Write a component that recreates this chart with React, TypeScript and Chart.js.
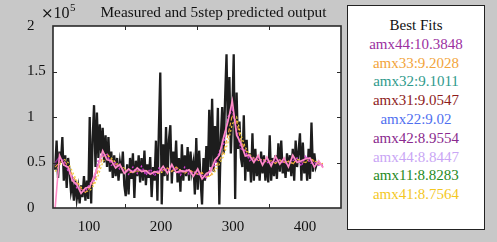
import React, { useEffect, useRef } from "react";
import { Chart, registerables } from "chart.js";

Chart.register(...registerables);

const TITLE = "Measured and 5step predicted output";
const EXPONENT_TIMES = "×";
const EXPONENT_BASE = "10";
const EXPONENT_POWER = "5";
const LEGEND_TITLE = "Best Fits";
const FIT_LABELS = [
  "amx44:10.3848",
  "amx33:9.2028",
  "amx32:9.1011",
  "amx31:9.0547",
  "amx22:9.02",
  "amx42:8.9554",
  "amx44:8.8447",
  "amx11:8.8283",
  "amx41:8.7564",
];
const FIT_COLORS = [
  "#9b2f9f",
  "#f2a43a",
  "#2f9a8c",
  "#8e1c1c",
  "#4f6ff0",
  "#8a2a8e",
  "#c9a6f5",
  "#1f8a22",
  "#f4c81f",
];

const X_MIN = 50;
const X_MAX = 450;
const X_TICK_LABELS = [100, 200, 300, 400];
const X_TICK_MARKS = [150, 250, 350];
const Y_MIN = 0;
const Y_MAX = 2;
const Y_TICKS = [0, 0.5, 1, 1.5, 2];
const Y_TICK_MARKS = [0.5, 1, 1.5];

// measured output (x 1e5), samples starting at x=53, every 2
const MEAS_X0 = 53;
const MEAS_STEP = 2;
const MEASURED = [
  0.42, 0.74, 0.33, 0.62, 0.5, 0.78, 0.3, 0.58, 0.22, 0.55,
  0.4, 0.18, 0.27, 0.08, 0.3, 0.1, 0.22, 0.05, 0.25, 0.12,
  0.35, 0.08, 0.3, 0.1, 1.0, 0.05, 0.75, 1.13, 0.45, 1.05,
  0.55, 0.92, 0.6, 0.88, 0.5, 0.8, 0.45, 0.78, 0.4, 0.62,
  0.33, 0.58, 0.35, 0.55, 0.3, 0.5, 0.38, 0.62, 0.25, 0.13,
  0.48, 0.15, 0.55, 0.32, 0.6, 0.11, 0.52, 0.35, 0.58, 0.28,
  0.55, 0.3, 0.63, 0.25, 0.48, 0.33, 0.56, 0.12, 0.45, 0.3,
  0.74, 0.08, 0.85, 1.49, 0.04, 0.7, 0.35, 0.89, 0.3, 0.75,
  0.91, 0.27, 0.62, 0.4, 0.74, 0.28, 0.55, 0.18, 0.7, 0.3,
  0.58, 0.35, 0.67, 0.3, 0.62, 0.4, 0.5, 0.15, 0.77, 0.2,
  0.63, 0.3, 0.04, 0.55, 0.3, 0.68, 0.35, 1.08, 0.45, 1.2,
  0.4, 0.9, 0.5, 1.1, 0.04, 0.75, 1.11, 0.6, 1.2, 1.69,
  0.8, 1.44, 0.6, 1.05, 1.69, 0.1, 1.27, 0.65, 0.95, 0.55,
  0.45, 1.02, 0.3, 0.75, 0.4, 0.6, 0.28, 0.82, 0.3, 0.65,
  0.35, 0.55, 0.3, 0.62, 0.38, 0.58, 0.3, 0.55, 0.28, 0.8,
  0.3, 0.55, 0.35, 0.58, 0.32, 0.71, 0.4, 0.74, 0.38, 0.52,
  0.33, 0.6, 0.4, 0.58, 0.35, 0.65, 0.3, 0.74, 0.45, 0.62,
  0.82, 0.3, 0.72, 0.38, 0.55, 0.3, 0.65, 0.32, 0.94, 0.4,
  0.6, 0.45, 0.5,
];

// predicted outputs, samples starting at x=53, every 6
const PRED_X0 = 53;
const PRED_STEP = 6;
const PRED_PINK = [
  0.0, 0.58, 0.47, 0.45, 0.3, 0.26, 0.16, 0.22, 0.23, 0.35, 0.47, 0.63, 0.53,
  0.52, 0.44, 0.48, 0.38, 0.43, 0.39, 0.44, 0.4, 0.41, 0.37, 0.4, 0.39, 0.46,
  0.38, 0.48, 0.39, 0.41, 0.4, 0.42, 0.35, 0.43, 0.32, 0.38, 0.4, 0.53, 0.58,
  0.78, 0.95, 1.18, 0.8, 0.71, 0.57, 0.58, 0.5, 0.58, 0.47, 0.56, 0.46, 0.57,
  0.48, 0.55, 0.45, 0.58, 0.5, 0.52, 0.54, 0.55, 0.45, 0.52, 0.44,
];
const PRED_MAGENTA = [
  0.48, 0.52, 0.53, 0.4, 0.34, 0.22, 0.2, 0.18, 0.27, 0.3, 0.53, 0.57, 0.59,
  0.47, 0.5, 0.42, 0.42, 0.37, 0.45, 0.38, 0.46, 0.36, 0.43, 0.35, 0.44, 0.41,
  0.43, 0.42, 0.44, 0.36, 0.45, 0.37, 0.4, 0.37, 0.36, 0.33, 0.44, 0.47, 0.62,
  0.7, 1.0, 1.08, 0.86, 0.65, 0.63, 0.52, 0.55, 0.52, 0.53, 0.5, 0.5, 0.51,
  0.53, 0.49, 0.5, 0.52, 0.55, 0.46, 0.58, 0.49, 0.5, 0.47, 0.47,
];
const PRED_PURPLE = [
  0.5, 0.56, 0.49, 0.43, 0.31, 0.25, 0.17, 0.21, 0.24, 0.33, 0.49, 0.61, 0.55,
  0.51, 0.46, 0.46, 0.39, 0.41, 0.41, 0.42, 0.42, 0.39, 0.39, 0.38, 0.41, 0.45,
  0.39, 0.46, 0.4, 0.39, 0.41, 0.4, 0.36, 0.41, 0.33, 0.36, 0.41, 0.51, 0.59,
  0.75, 0.97, 1.13, 0.83, 0.69, 0.59, 0.56, 0.51, 0.56, 0.49, 0.54, 0.47, 0.55,
  0.49, 0.53, 0.46, 0.56, 0.51, 0.5, 0.55, 0.53, 0.46, 0.51, 0.45,
];
const PRED_ORANGE = [
  0.45, 0.5, 0.52, 0.46, 0.36, 0.28, 0.21, 0.17, 0.22, 0.28, 0.42, 0.56, 0.6,
  0.53, 0.48, 0.45, 0.43, 0.39, 0.4, 0.41, 0.4, 0.42, 0.37, 0.4, 0.38, 0.42,
  0.44, 0.4, 0.45, 0.41, 0.38, 0.42, 0.39, 0.37, 0.39, 0.34, 0.36, 0.44, 0.52,
  0.62, 0.8, 1.02, 0.95, 0.74, 0.64, 0.57, 0.54, 0.52, 0.54, 0.5, 0.52, 0.49,
  0.53, 0.5, 0.52, 0.48, 0.54, 0.51, 0.5, 0.55, 0.51, 0.48, 0.49,
];
const PRED_YELLOW = [
  0.4, 0.47, 0.54, 0.5, 0.4, 0.3, 0.23, 0.18, 0.19, 0.25, 0.36, 0.5, 0.58,
  0.55, 0.5, 0.46, 0.44, 0.4, 0.39, 0.41, 0.41, 0.41, 0.39, 0.39, 0.38, 0.4,
  0.43, 0.41, 0.43, 0.42, 0.39, 0.41, 0.4, 0.37, 0.38, 0.35, 0.35, 0.4, 0.48,
  0.57, 0.72, 0.92, 1.0, 0.8, 0.67, 0.59, 0.55, 0.53, 0.53, 0.52, 0.51, 0.5,
  0.52, 0.51, 0.51, 0.49, 0.53, 0.52, 0.5, 0.54, 0.52, 0.49, 0.48,
];

const FONT = "'Liberation Serif', 'Times New Roman', serif";
const BG = "#c8c8c8";

function toPoints(values: number[], x0: number, step: number) {
  return values.map((y, i) => ({ x: x0 + i * step, y }));
}

const framePlugin = {
  id: "matlabFrame",
  beforeDatasetsDraw(chart: any) {
    const { ctx, chartArea } = chart;
    ctx.save();
    ctx.fillStyle = "#ffffff";
    ctx.fillRect(chartArea.left, chartArea.top, chartArea.right - chartArea.left, chartArea.bottom - chartArea.top);
    ctx.restore();
  },
  afterDatasetsDraw(chart: any) {
    const { ctx, chartArea, scales } = chart;
    const { left, right, top, bottom } = chartArea;
    ctx.save();
    ctx.strokeStyle = "#2a2a2a";
    ctx.lineWidth = 1;
    ctx.beginPath();
    X_TICK_MARKS.forEach((v) => {
      const px = Math.round(scales.x.getPixelForValue(v)) + 0.5;
      ctx.moveTo(px, bottom);
      ctx.lineTo(px, bottom - 4);
      ctx.moveTo(px, top);
      ctx.lineTo(px, top + 4);
    });
    Y_TICK_MARKS.forEach((v) => {
      const py = Math.round(scales.y.getPixelForValue(v)) + 0.5;
      ctx.moveTo(left, py);
      ctx.lineTo(left + 4, py);
      ctx.moveTo(right, py);
      ctx.lineTo(right - 4, py);
    });
    ctx.stroke();
    ctx.lineWidth = 1.6;
    ctx.strokeRect(left, top, right - left, bottom - top);

    // exponent label (×10^5) above the y axis
    ctx.fillStyle = "#111";
    ctx.textBaseline = "alphabetic";
    ctx.textAlign = "left";
    const by = 18;
    let bx = 41;
    ctx.font = `15px 'DejaVu Serif', serif`;
    ctx.fillText(EXPONENT_TIMES, bx, by);
    bx += ctx.measureText(EXPONENT_TIMES).width;
    ctx.font = `16px ${FONT}`;
    ctx.fillText(EXPONENT_BASE, bx, by);
    bx += ctx.measureText(EXPONENT_BASE).width + 0.5;
    ctx.font = `11px ${FONT}`;
    ctx.fillText(EXPONENT_POWER, bx, by - 7);
    ctx.restore();
  },
};

export default function App() {
  const canvasRef = useRef<HTMLCanvasElement | null>(null);

  useEffect(() => {
    if (!canvasRef.current) return;
    const line = (label: string, data: number[], color: string, width: number, dash: number[], order: number) => ({
      label,
      data: toPoints(data, PRED_X0, PRED_STEP),
      borderColor: color,
      borderWidth: width,
      borderDash: dash,
      pointRadius: 0,
      fill: false,
      tension: 0,
      order,
    });
    const chart = new Chart(canvasRef.current, {
      type: "line",
      data: {
        datasets: [
          line("pred yellow", PRED_YELLOW, "#f0cf3c", 1.2, [2, 2], 5),
          line("pred orange", PRED_ORANGE, "#f3a23a", 1.2, [4, 2], 4),
          line("pred purple", PRED_PURPLE, "#8a2a8e", 1.3, [], 3),
          line("pred magenta", PRED_MAGENTA, "#d23cd2", 1.3, [2, 2], 2),
          line("pred pink", PRED_PINK, "#ff8cc6", 1.6, [], 1),
          {
            label: "measured",
            data: toPoints(MEASURED, MEAS_X0, MEAS_STEP),
            borderColor: "rgba(10,10,10,0.92)",
            borderWidth: 2.3,
            pointRadius: 0,
            fill: false,
            tension: 0,
            order: 10,
          },
        ],
      },
      options: {
        animation: false,
        responsive: false,
        devicePixelRatio: 1,
        layout: { padding: { left: 27, right: 156, top: 26, bottom: 0 } },
        plugins: {
          legend: { display: false },
          tooltip: { enabled: false },
          title: { display: false },
        },
        scales: {
          x: {
            type: "linear",
            min: X_MIN,
            max: X_MAX,
            grid: { display: false, drawTicks: false },
            border: { display: false },
            afterBuildTicks: (scale: any) => {
              scale.ticks = X_TICK_LABELS.map((v) => ({ value: v }));
            },
            afterFit: (scale: any) => {
              scale.height = 34;
            },
            ticks: {
              color: "#111",
              padding: 10,
              maxRotation: 0,
              autoSkip: false,
              callback: (v: any) => String(v),
              font: { family: FONT, size: 15 },
            },
          },
          y: {
            type: "linear",
            min: Y_MIN,
            max: Y_MAX,
            grid: { display: false, drawTicks: false },
            border: { display: false },
            afterBuildTicks: (scale: any) => {
              scale.ticks = Y_TICKS.map((v) => ({ value: v }));
            },
            afterFit: (scale: any) => {
              scale.width = 26;
            },
            ticks: {
              color: "#111",
              crossAlign: "far",
              autoSkip: false,
              callback: (v: any) => String(v),
              font: { family: FONT, size: 15 },
            },
          },
        },
      },
      plugins: [framePlugin],
    } as any);
    return () => chart.destroy();
  }, []);

  return (
    <div
      style={{
        position: "fixed",
        left: 0,
        top: 0,
        width: 497,
        height: 242,
        background: BG,
        fontFamily: FONT,
        overflow: "hidden",
      }}
    >
      <canvas ref={canvasRef} width={497} height={242} style={{ position: "absolute", left: 0, top: 0 }} />
      <div
        style={{
          position: "absolute",
          left: 213.5,
          top: 3,
          transform: "translateX(-50%)",
          fontSize: 15.3,
          lineHeight: "18px",
          color: "#111",
          whiteSpace: "nowrap",
        }}
      >
        {TITLE}
      </div>
      <div
        style={{
          position: "absolute",
          left: 347,
          top: 5,
          width: 138,
          height: 225,
          boxSizing: "border-box",
          border: "1.5px solid #222",
          background: "#fff",
          textAlign: "center",
          paddingTop: 10,
          fontSize: 15,
          lineHeight: "18.8px",
        }}
      >
        <div style={{ color: "#111" }}>{LEGEND_TITLE}</div>
        {FIT_LABELS.map((t, i) => (
          <div key={i} style={{ color: FIT_COLORS[i] }}>
            {t}
          </div>
        ))}
      </div>
    </div>
  );
}
